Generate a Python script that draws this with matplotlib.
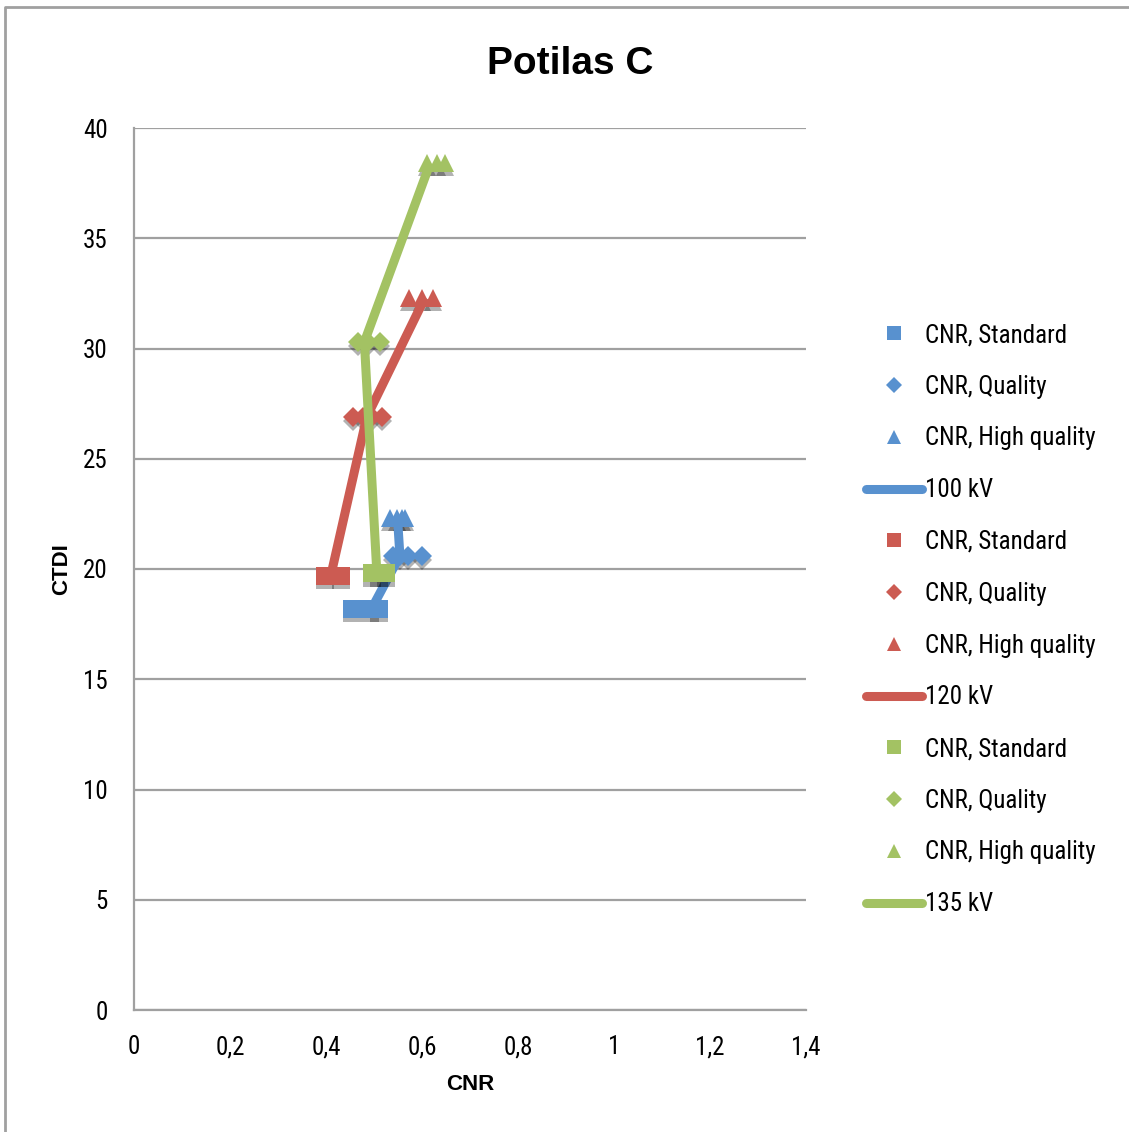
import matplotlib
matplotlib.use("Agg")
import matplotlib.pyplot as plt
import matplotlib.patheffects as pe
from matplotlib.lines import Line2D
from matplotlib import font_manager

# pick a narrow font if one is installed
fl = font_manager.fontManager.ttflist
names = {f.name for f in fl}
NARROW = None
STRETCH = "normal"
for cand in ["Liberation Sans Narrow", "Arial Narrow", "DejaVu Sans Condensed",
             "Roboto Condensed", "Open Sans Condensed", "Noto Sans Condensed"]:
    if cand in names:
        NARROW = cand
        break
if NARROW is None:
    for f in fl:
        if f.stretch in ("condensed", "semi-condensed") and f.weight in (400, "normal", "regular") \
                and f.style == "normal" and "Mono" not in f.name and "Serif" not in f.name:
            NARROW = f.name
            STRETCH = f.stretch
            break
if NARROW is None:
    NARROW = "Liberation Sans"
    FS = 16.3
    LSP = 1.33
else:
    FS = 18
    LSP = 1.11
plt.rcParams["font.family"] = [NARROW, "DejaVu Sans"]
plt.rcParams["font.stretch"] = STRETCH

# ---- data ----
title = "Potilas C"
xlabel = "CNR"
ylabel = "CTDI"
voltages = ["100 kV", "120 kV", "135 kV"]
protocols = ["CNR, Standard", "CNR, Quality", "CNR, High quality"]

# 100 kV
ctdi_100 = [18.2, 20.6, 22.3]
cnr_std_100 = [0.454, 0.492, 0.51]
cnr_qual_100 = [0.54, 0.554, 0.571, 0.60]
cnr_hq_100 = [0.533, 0.548, 0.558, 0.565]
line_cnr_100 = [0.495, 0.554, 0.549]

# 120 kV
ctdi_120 = [19.7, 26.9, 32.3]
cnr_std_120 = [0.398, 0.431]
cnr_qual_120 = [0.456, 0.477, 0.496, 0.517]
cnr_hq_120 = [0.573, 0.60, 0.623]
line_cnr_120 = [0.41, 0.485, 0.606]

# 135 kV
ctdi_135 = [19.8, 30.3, 38.4]
cnr_std_135 = [0.495, 0.51, 0.525]
cnr_qual_135 = [0.467, 0.488, 0.512]
cnr_hq_135 = [0.61, 0.632, 0.648]
line_cnr_135 = [0.506, 0.48, 0.617]

colors = ["#5891CF", "#CC5B52", "#A3C263"]
markers = ["s", "D", "^"]
msizes = [13, 10, 13]

groups = [
    (ctdi_100, [cnr_std_100, cnr_qual_100, cnr_hq_100], line_cnr_100),
    (ctdi_120, [cnr_std_120, cnr_qual_120, cnr_hq_120], line_cnr_120),
    (ctdi_135, [cnr_std_135, cnr_qual_135, cnr_hq_135], line_cnr_135),
]

fig = plt.figure(figsize=(11.29, 11.32), dpi=100)
ax = fig.add_axes([134 / 1129, 1 - 1010 / 1132, (806 - 134) / 1129, (1010 - 128) / 1132])

shadow = [pe.SimplePatchShadow(offset=(0, -3), shadow_rgbFace="black", alpha=0.3), pe.Normal()]

handles = []
z = 3
for gi, (ctdi, cnrs, linecnr) in enumerate(groups):
    c = colors[gi]
    for pi, xs in enumerate(cnrs):
        ax.plot(xs, [ctdi[pi]] * len(xs), linestyle="none", marker=markers[pi],
                markersize=msizes[pi], color=c, markeredgewidth=0, zorder=z,
                path_effects=shadow)
        z += 1
        handles.append(Line2D([], [], linestyle="none", marker=markers[pi],
                              markersize=[10.5, 8, 10.5][pi], color=c, markeredgewidth=0,
                              label=protocols[pi]))
    ax.plot(linecnr, ctdi, color=c, linewidth=6.5, solid_capstyle="butt",
            solid_joinstyle="miter", zorder=z)
    z += 1
    handles.append(Line2D([], [], color=c, linewidth=6.5, solid_capstyle="round",
                          label=voltages[gi]))

ax.set_xlim(0, 1.4)
ax.set_ylim(0, 40)
ax.set_xticks([0, 0.2, 0.4, 0.6, 0.8, 1.0, 1.2, 1.4])
ax.set_xticklabels(["0", "0,2", "0,4", "0,6", "0,8", "1", "1,2", "1,4"])
ax.set_yticks(range(0, 41, 5))
ax.set_yticklabels([str(v) for v in range(0, 41, 5)])
ax.tick_params(length=0, labelsize=FS)
ax.tick_params(axis="x", pad=18)
ax.tick_params(axis="y", pad=19)
ax.grid(axis="y", color="#A0A0A0", linewidth=1.6)
ax.set_axisbelow(True)
for s in ["top", "right"]:
    ax.spines[s].set_visible(False)
for s in ["left", "bottom"]:
    ax.spines[s].set_color("#A0A0A0")
    ax.spines[s].set_linewidth(1.6)

fig.text(570 / 1129, 1 - 64 / 1132, title, ha="center", va="center",
         fontsize=28, fontweight="bold", family=["Liberation Sans", "DejaVu Sans"],
         stretch="normal")
fig.text(470 / 1129, 1 - 1085 / 1132, xlabel, ha="center", va="center",
         fontsize=16, fontweight="bold", family=["Liberation Sans", "DejaVu Sans"])
fig.text(62 / 1129, 1 - 569 / 1132, ylabel, ha="center", va="center",
         fontsize=16, fontweight="bold", rotation=90, family=["Liberation Sans", "DejaVu Sans"])

leg = fig.legend(handles=handles, loc="upper left",
                 bbox_to_anchor=(866 / 1129, 1 - 323 / 1132),
                 frameon=False, fontsize=FS, handlelength=2.25, handletextpad=0.1,
                 labelspacing=LSP, borderpad=0, borderaxespad=0, numpoints=1)

# chart border (top and left only visible)
fig.add_artist(Line2D([5 / 1129, 5 / 1129, 1], [0, 1 - 7 / 1132, 1 - 7 / 1132],
                      transform=fig.transFigure, color="#A0A0A0", linewidth=2))

fig.savefig("out.png", dpi=100)
